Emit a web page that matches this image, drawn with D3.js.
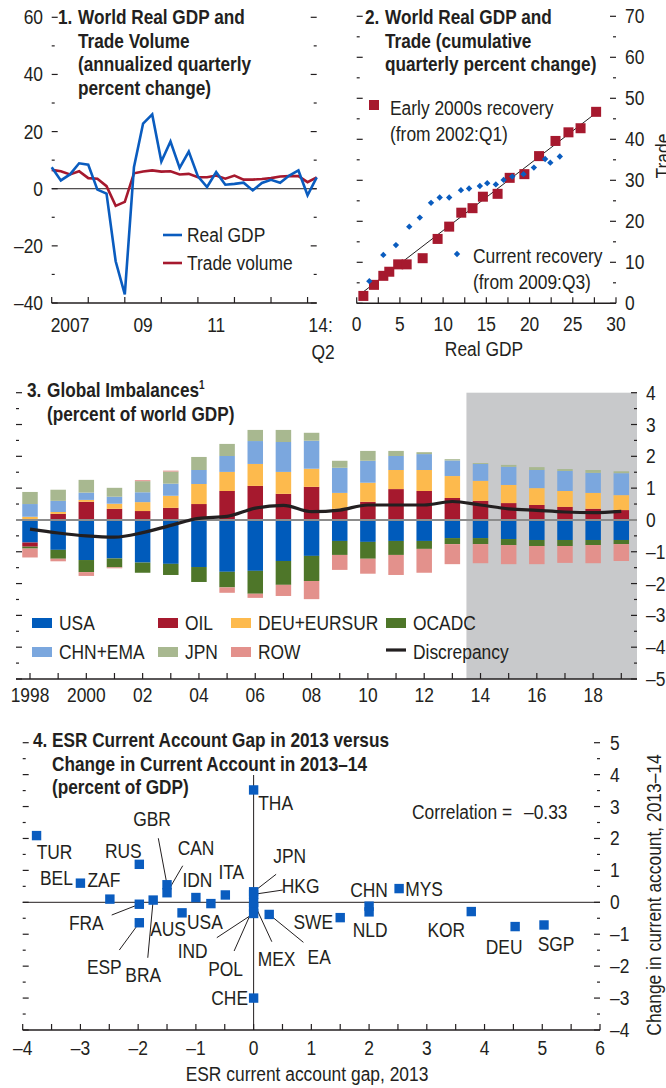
<!DOCTYPE html>
<html>
<head>
<meta charset="utf-8">
<script src="https://cdn.jsdelivr.net/npm/d3@7"></script>
<style>
  body { margin: 0; background: #fff; }
  svg text { font-family: "Liberation Sans", Arial, sans-serif; fill: #231f20; font-size: 20px; }
  svg text.ttl { font-weight: bold; font-size: 20.5px; }
</style>
</head>
<body>
<svg id="chart" width="666" height="1088"></svg>
<script>
// ---------- panel 1 data ----------
const p1Quarters = ["2007Q1","2007Q2","2007Q3","2007Q4","2008Q1","2008Q2","2008Q3","2008Q4",
  "2009Q1","2009Q2","2009Q3","2009Q4","2010Q1","2010Q2","2010Q3","2010Q4",
  "2011Q1","2011Q2","2011Q3","2011Q4","2012Q1","2012Q2","2012Q3","2012Q4",
  "2013Q1","2013Q2","2013Q3","2013Q4","2014Q1","2014Q2"];
const realGDP = [7.5, 2.9, 5.0, 8.9, 8.4, -0.3, -1.7, -25.4, -37, 7.5, 22.8, 26, 9.5, 16.5, 7.3, 13,
  4.3, 0.6, 5.8, 1.4, 1.7, 2.1, -0.6, 2.0, 3.1, 2.1, 4.6, 6.4, -2.3, 4.0];
const tradeVolume = [6.6, 6.1, 5.0, 6.1, 3.7, 3.5, 0.9, -6.0, -4.6, 5.4, 6.0, 6.4, 6.0, 6.1, 5.0, 5.2,
  4.0, 4.0, 4.6, 3.5, 4.6, 3.2, 3.2, 3.4, 3.7, 4.3, 4.4, 4.4, 2.3, 4.0];
const p1YLabels = [60, 40, 20, 0, -20, -40];
const p1YearTicks = ["2007Q1","2008Q1","2009Q1","2010Q1","2011Q1","2012Q1","2013Q1","2014Q1"];
const p1YearLabels = [["2007Q3", "2007"], ["2009Q3", "09"], ["2011Q3", "11"]];

// ---------- panel 2 data ----------
const early2000s = [[0.77,1.8],[2.0,4.5],[3.08,6.7],[3.77,7.7],[4.8,9.5],[5.78,9.5],[7.63,11.0],
  [9.36,15.7],[10.7,18.7],[12.1,22.1],[13.4,23.2],[14.6,26.0],[16.3,26.7],[17.7,30.6],[19.4,31.5],
  [21.1,35.9],[23.0,39.6],[24.5,41.7],[25.9,42.7],[27.7,46.7]];
const currentRecovery = [[1.46,5.4],[3.08,11.8],[4.54,14.2],[6.08,18.7],[7.3,20.9],[8.6,24.5],
  [9.6,25.8],[10.7,25.8],[12.06,27.6],[13.0,28.0],[14.25,28.6],[15.1,29.3],[16.1,29.0],[17.0,30.1],
  [18.0,30.9],[19.3,31.5],[20.5,33.1],[21.8,35.2],[22.4,34.3],[23.5,35.8]];
const trendLine = [[0.77,2.8],[27.8,46.6]];
const p2XLabels = [0, 5, 10, 15, 20, 25, 30];
const p2YLabels = [0, 10, 20, 30, 40, 50, 60, 70];

// ---------- panel 3 data ----------
const years = [1998,1999,2000,2001,2002,2003,2004,2005,2006,2007,2008,
  2009,2010,2011,2012,2013,2014,2015,2016,2017,2018,2019];
const usa   = [-0.71,-0.94,-1.26,-1.21,-1.34,-1.38,-1.48,-1.63,-1.60,-1.29,-1.13,-0.66,-0.69,-0.66,-0.66,-0.57,-0.57,-0.60,-0.63,-0.63,-0.63,-0.63];
const oil   = [-0.13,0.19,0.57,0.35,0.28,0.38,0.50,0.91,1.07,0.82,1.04,0.35,0.57,0.97,0.91,0.69,0.60,0.53,0.47,0.41,0.35,0.31];
const deu   = [0.10,0.06,0.06,0.16,0.28,0.38,0.63,0.60,0.69,0.69,0.57,0.50,0.60,0.60,0.66,0.69,0.63,0.57,0.53,0.50,0.50,0.47];
const ocadc = [-0.06,-0.28,-0.38,-0.28,-0.32,-0.35,-0.47,-0.49,-0.72,-0.75,-0.79,-0.44,-0.53,-0.44,-0.25,-0.19,-0.19,-0.19,-0.19,-0.19,-0.16,-0.13];
const chn   = [0.40,0.35,0.23,0.22,0.31,0.38,0.44,0.50,0.72,0.94,0.88,0.79,0.69,0.44,0.50,0.49,0.53,0.57,0.57,0.63,0.63,0.69];
const jpn   = [0.38,0.35,0.40,0.28,0.35,0.38,0.41,0.38,0.35,0.38,0.25,0.22,0.31,0.16,0.06,0.04,0.03,0.06,0.09,0.06,0.09,0.06];
const row   = [-0.28,-0.08,-0.12,-0.03,0.03,0.03,0,-0.17,-0.13,-0.35,-0.57,-0.47,-0.47,-0.63,-0.75,-0.63,-0.60,-0.60,-0.57,-0.53,-0.57,-0.53];
const discrepancy = [-0.29,-0.41,-0.50,-0.54,-0.40,-0.17,0.05,0.11,0.37,0.46,0.26,0.31,0.47,0.47,0.47,0.58,0.47,0.35,0.30,0.25,0.23,0.27];
const p3Keys   = ["USA","OIL","DEU+EURSUR","OCADC","CHN+EMA","JPN","ROW"];
const p3Series = [usa, oil, deu, ocadc, chn, jpn, row];
const p3YearLabels = [[1998,"1998"],[2000,"2000"],[2002,"02"],[2004,"04"],[2006,"06"],[2008,"08"],
  [2010,"10"],[2012,"12"],[2014,"14"],[2016,"16"],[2018,"18"]];
const p3YLabels = [4,3,2,1,0,-1,-2,-3,-4,-5];
const projectionStart = 2013.5;

// ---------- panel 4 data ----------
const countries = ["TUR","BEL","ZAF","RUS","GBR","CAN","IDN","ITA","FRA","ESP","BRA","AUS","USA",
  "IND","POL","MEX","JPN","HKG","THA","CHE","EA","SWE","CHN","NLD","MYS","KOR","DEU","SGP"];
const esrGap = [-3.76,-3.0,-2.49,-1.98,-1.5,-1.5,-1.0,-0.49,-1.98,-1.98,-1.74,-1.24,-0.74,
  0.0,0.0,0.0,0.0,0.0,0.0,0.0,0.27,1.5,2.0,2.0,2.52,3.77,4.53,5.03];
const caChange = [2.09,0.6,0.1,1.19,0.55,0.3,0.15,0.23,-0.06,-0.64,0.07,-0.33,-0.04,
  -0.35,-0.15,0.0,0.33,0.25,3.52,-3.0,-0.38,-0.48,-0.12,-0.3,0.43,-0.29,-0.76,-0.71];
const p4XLabels = [-4,-3,-2,-1,0,1,2,3,4,5,6];
const p4YLabels = [5,4,3,2,1,0,-1,-2,-3,-4];
// label placement (pixel offsets from the point) and leader-line starts
const labelLayout = {
  TUR:{dx:18,dy:16}, BEL:{dx:-24,dy:-5}, ZAF:{dx:-6,dy:-19}, RUS:{dx:-16,dy:-13},
  GBR:{dx:-15,dy:-66,lx:-8.7,ly:-46.5}, CAN:{dx:29,dy:-45,lx:15.7,ly:-27},
  IDN:{dx:1.5,dy:-17.5}, ITA:{dx:6,dy:-23}, FRA:{dx:-53,dy:19,lx:-27.6,ly:10.8},
  ESP:{dx:-35,dy:44,lx:-20,ly:27.3}, BRA:{dx:-10,dy:75,lx:-5.4,ly:57.7}, AUS:{dx:-14,dy:16},
  USA:{dx:-6,dy:18}, IND:{dx:-61,dy:38,lx:-36.8,ly:24.2}, POL:{dx:-28,dy:62,lx:-19.5,ly:43.9},
  MEX:{dx:23,dy:57,lx:18.2,ly:39.4}, JPN:{dx:36,dy:-36,lx:22.5,ly:-17.5},
  HKG:{dx:47,dy:-8,lx:29.2,ly:-4.3}, THA:{dx:22,dy:13}, CHE:{dx:-24,dy:0},
  EA:{dx:50,dy:43,lx:34.2,ly:27.9}, SWE:{dx:-27,dy:4}, CHN:{dx:0,dy:-16}, NLD:{dx:1,dy:18},
  MYS:{dx:25,dy:0}, KOR:{dx:-25,dy:18}, DEU:{dx:-11,dy:20}, SGP:{dx:12,dy:19}
};

const INK = "#231f20", BLUE = "#0a5cbf", RED = "#a6192e";
const fmt = v => v < 0 ? "\u2013" + Math.abs(v) : String(v);
const svg = d3.select("#chart");

// condensed text: Liberation Sans squeezed horizontally
function T(g, x, y, s, o = {}) {
  const sx = o.bold ? 0.84 : 0.87;
  const t = g.append("text")
    .attr("transform", `translate(${x},${y})${o.rot ? ` rotate(${o.rot})` : ""} scale(${sx},1)`)
    .attr("text-anchor", o.anchor || "start");
  if (!o.base) t.attr("dy", "0.35em");
  if (o.bold) t.attr("class", "ttl");
  t.text(s);
  return t;
}

function title(g, num, lines, x0, x1, y0) {
  T(g, x0, y0, num, { bold: true, base: true });
  lines.forEach((t, i) => {
    if (Array.isArray(t)) {
      const el = T(g, x1, y0 + i * 23.7, t[0], { bold: true, base: true });
      el.append("tspan").attr("font-size", 12).attr("dy", -8).text(t[1]);
    } else T(g, x1, y0 + i * 23.7, t, { bold: true, base: true });
  });
}

// side ticks: x position, direction (+1 right, -1 left)
function sideTicks(g, y, values, x, dir, isMajor) {
  g.selectAll(null).data(values).enter().append("line")
    .attr("x1", x).attr("x2", d => x + dir * (isMajor(d) ? 6 : 3))
    .attr("y1", d => y(d)).attr("y2", d => y(d))
    .attr("stroke", INK).attr("stroke-width", 1.2);
}
function bottomAxis(g, x0, x1, yPos, ticks) {
  g.append("line").attr("x1", x0).attr("x2", x1).attr("y1", yPos).attr("y2", yPos)
    .attr("stroke", INK).attr("stroke-width", 1.4);
  g.selectAll(null).data(ticks).enter().append("line")
    .attr("x1", d => d).attr("x2", d => d).attr("y1", yPos).attr("y2", yPos - 6)
    .attr("stroke", INK).attr("stroke-width", 1.2);
}

// ================= PANEL 1 =================
{
  const g = svg.append("g");
  const x = d3.scalePoint().domain(p1Quarters).range([51.7, 316.7]);
  const y = d3.scaleLinear().domain([-40, 60]).range([303, 17.3]);
  const tv = d3.range(-40, 61, 10);
  sideTicks(g, y, tv, 51.7, 1, d => d % 20 === 0);
  sideTicks(g, y, tv, 316.7, -1, d => d % 20 === 0);
  p1YLabels.forEach(d => T(g, 43, y(d), fmt(d), { anchor: "end" }));
  bottomAxis(g, 51.7, 316.7, 303, p1YearTicks.map(q => x(q)));
  p1YearLabels.forEach(d => T(g, x(d[0]), 325, d[1], { anchor: "middle" }));
  T(g, x("2014Q1") + 1, 325, "14:");
  T(g, x("2014Q1") + 4, 352, "Q2");
  g.append("line").attr("x1", 51.7).attr("x2", 316.7).attr("y1", y(0)).attr("y2", y(0))
    .attr("stroke", INK).attr("stroke-width", 1);
  const line = d3.line().x((d, i) => x(p1Quarters[i])).y(d => y(d));
  g.append("path").datum(tradeVolume).attr("d", line).attr("fill", "none").attr("stroke", RED).attr("stroke-width", 2.6);
  g.append("path").datum(realGDP).attr("d", line).attr("fill", "none").attr("stroke", BLUE).attr("stroke-width", 2.6);
  title(g, "1.", ["World Real GDP and", "Trade Volume", "(annualized quarterly", "percent change)"], 58, 78, 24);
  [["Real GDP", BLUE, 235], ["Trade volume", RED, 263]].forEach(([t, c, yy]) => {
    g.append("line").attr("x1", 163).attr("x2", 182).attr("y1", yy).attr("y2", yy).attr("stroke", c).attr("stroke-width", 2.6);
    T(g, 187, yy, t);
  });
}

// ================= PANEL 2 =================
{
  const g = svg.append("g");
  const x = d3.scaleLinear().domain([0, 30]).range([356.7, 616]);
  const y = d3.scaleLinear().domain([0, 70]).range([303.3, 16.3]);
  const tv = d3.range(0, 71, 5);
  sideTicks(g, y, tv, 356.7, 1, d => d % 10 === 0);
  sideTicks(g, y, tv, 616, -1, d => d % 10 === 0);
  p2YLabels.forEach(d => T(g, 625, y(d), fmt(d)));
  bottomAxis(g, 356.7, 616, 303.3, d3.range(0, 30.1, 2.5).map(x));
  p2XLabels.forEach(d => T(g, x(d), 324, fmt(d), { anchor: "middle" }));
  T(g, 484, 349, "Real GDP", { anchor: "middle" });
  // axis title runs past the right edge in the original
  T(g, 670, 156, "Trade", { anchor: "middle", rot: -90, base: true });
  g.append("path").datum(trendLine).attr("d", d3.line().x(d => x(d[0])).y(d => y(d[1])))
    .attr("stroke", INK).attr("stroke-width", 1).attr("fill", "none");
  g.selectAll(null).data(early2000s).enter().append("rect")
    .attr("x", d => x(d[0]) - 5).attr("y", d => y(d[1]) - 5).attr("width", 10).attr("height", 10).attr("fill", RED);
  const diamond = d3.symbol().type(d3.symbolDiamond2).size(26);
  g.selectAll(null).data(currentRecovery).enter().append("path")
    .attr("transform", d => `translate(${x(d[0])},${y(d[1])})`).attr("d", diamond).attr("fill", BLUE);
  title(g, "2.", ["World Real GDP and", "Trade (cumulative", "quarterly percent change)"], 365, 385, 24);
  g.append("rect").attr("x", 369).attr("y", 100).attr("width", 10).attr("height", 10).attr("fill", RED);
  T(g, 390, 108, "Early 2000s recovery");
  T(g, 390, 134, "(from 2002:Q1)");
  g.append("path").attr("transform", "translate(457,254)").attr("d", diamond).attr("fill", BLUE);
  T(g, 473, 256, "Current recovery");
  T(g, 473, 282, "(from 2009:Q3)");
}

// ================= PANEL 3 =================
{
  const g = svg.append("g");
  const x = d3.scaleLinear().domain([1998, 2019]).range([30, 621.3]);
  const y = d3.scaleLinear().domain([-5, 4]).range([679, 392.7]);
  const color = d3.scaleOrdinal().domain(p3Keys)
    .range(["#005bbb", "#a6192e", "#fdba4d", "#4e7629", "#7ba7de", "#a8b890", "#e3918c"]);
  g.append("rect").attr("x", x(projectionStart)).attr("y", y(4)).attr("width", 637 - x(projectionStart))
    .attr("height", y(-5) - y(4)).attr("fill", "#c8c9cb");
  const tv = d3.range(-5, 4.01, 0.5);
  sideTicks(g, y, tv, 16, 1, d => Number.isInteger(d));
  sideTicks(g, y, tv, 637, -1, d => Number.isInteger(d));
  p3YLabels.forEach(d => T(g, 646, y(d), fmt(d)));
  const table = years.map((yr, i) => {
    const o = { year: yr };
    p3Keys.forEach((k, j) => o[k] = p3Series[j][i]);
    return o;
  });
  const stacked = d3.stack().keys(p3Keys).offset(d3.stackOffsetDiverging)(table);
  g.selectAll("g.layer").data(stacked).enter().append("g").attr("fill", d => color(d.key))
    .selectAll("rect").data(d => d).enter().append("rect")
    .attr("x", d => x(d.data.year) - 7.75).attr("width", 15.5)
    .attr("y", d => y(Math.max(d[0], d[1]))).attr("height", d => Math.abs(y(d[0]) - y(d[1])));
  g.append("line").attr("x1", 16).attr("x2", 637).attr("y1", y(0)).attr("y2", y(0))
    .attr("stroke", "#8c8c8c").attr("stroke-width", 2);
  g.append("path").datum(discrepancy)
    .attr("d", d3.line().x((d, i) => x(years[i])).y(d => y(d)).curve(d3.curveMonotoneX))
    .attr("fill", "none").attr("stroke", "#231f20").attr("stroke-width", 3.2);
  bottomAxis(g, 16, 637, 679, years.map(x));
  p3YearLabels.forEach(d => T(g, x(d[0]), 695, d[1], { anchor: "middle" }));
  title(g, "3.", [["Global Imbalances", "1"], "(percent of world GDP)"], 27, 47, 397);
  const legendItems = [["USA", 32, 623], ["OIL", 158, 623], ["DEU+EURSUR", 231, 623], ["OCADC", 386, 623],
    ["CHN+EMA", 32, 652], ["JPN", 158, 652], ["ROW", 231, 652]];
  legendItems.forEach(([k, lx, ly]) => {
    g.append("rect").attr("x", lx).attr("y", ly - 5).attr("width", 20).attr("height", 10).attr("fill", color(k));
    T(g, lx + 27, ly, k);
  });
  g.append("line").attr("x1", 386).attr("x2", 406).attr("y1", 650).attr("y2", 650).attr("stroke", INK).attr("stroke-width", 3.2);
  T(g, 413, 652, "Discrepancy");
}

// ================= PANEL 4 =================
{
  const g = svg.append("g");
  const x = d3.scaleLinear().domain([-4, 6]).range([22.7, 600]);
  const y = d3.scaleLinear().domain([-4, 5]).range([1030, 742.7]);
  const tv = d3.range(-4, 5.01, 0.5);
  sideTicks(g, y, tv, 22.7, 1, d => Number.isInteger(d));
  sideTicks(g, y, tv, 600, -1, d => Number.isInteger(d));
  p4YLabels.forEach(d => T(g, 610, y(d), fmt(d)));
  bottomAxis(g, 22.7, 600, 1030, d3.range(-4, 6.01, 0.5).map(x));
  p4XLabels.forEach(d => T(g, x(d), 1048, fmt(d), { anchor: "middle" }));
  T(g, 307, 1074, "ESR current account gap, 2013", { anchor: "middle" });
  T(g, 661, 895, "Change in current account, 2013\u201314", { anchor: "middle", rot: -90, base: true });
  g.append("line").attr("x1", 22.7).attr("x2", 600).attr("y1", y(0)).attr("y2", y(0)).attr("stroke", INK).attr("stroke-width", 1);
  g.append("line").attr("x1", x(0)).attr("x2", x(0)).attr("y1", 775).attr("y2", 1030).attr("stroke", INK).attr("stroke-width", 1);
  const pts = countries.map((c, i) => ({ c, px: x(esrGap[i]), py: y(caChange[i]), L: labelLayout[c] }));
  g.selectAll(null).data(pts.filter(d => d.L.lx !== undefined)).enter().append("line")
    .attr("x1", d => d.px + d.L.lx).attr("y1", d => d.py + d.L.ly).attr("x2", d => d.px).attr("y2", d => d.py)
    .attr("stroke", INK).attr("stroke-width", 1);
  g.selectAll(null).data(pts).enter().append("rect")
    .attr("x", d => d.px - 4.7).attr("y", d => d.py - 4.7).attr("width", 9.4).attr("height", 9.4).attr("fill", BLUE);
  pts.forEach(d => T(g, d.px + d.L.dx, d.py + d.L.dy, d.c, { anchor: "middle" }));
  T(g, 412, 812, "Correlation =").attr("xml:space", "preserve");
  T(g, 524, 812, "\u20130.33");
  title(g, "4.", ["ESR Current Account Gap in 2013 versus", "Change in Current Account in 2013\u201314", "(percent of GDP)"], 33, 52, 747);
}
</script>
</body>
</html>
